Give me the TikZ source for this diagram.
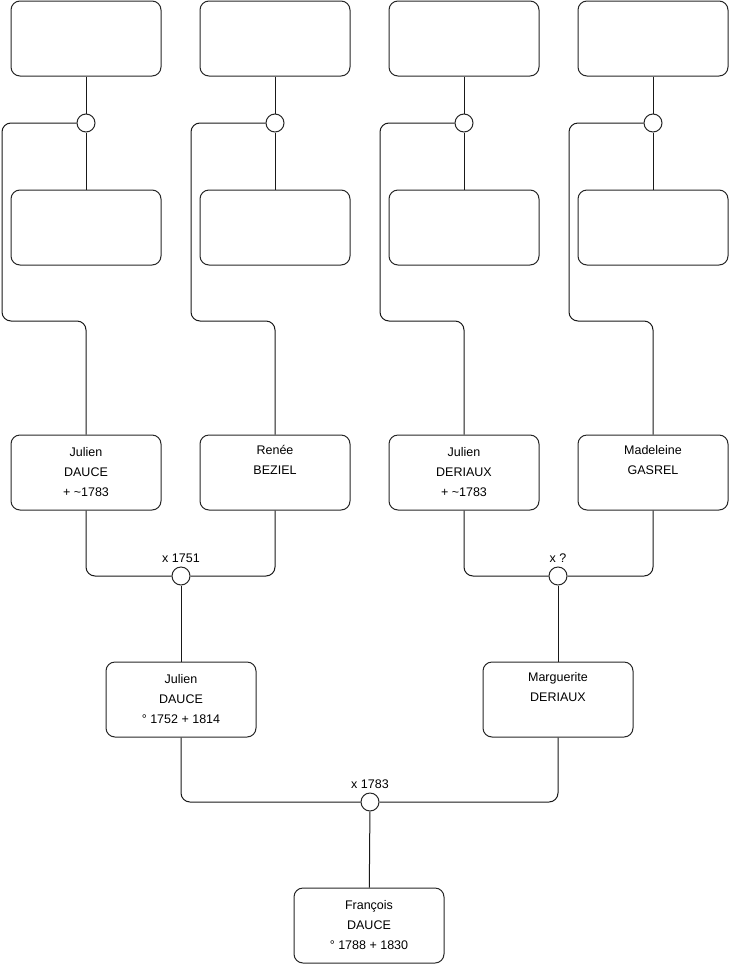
\documentclass[tikz,border=0pt]{standalone}
\usepackage{fontspec}
\setmainfont{Liberation Sans}
\usetikzlibrary{positioning,calc}
\tikzset{
  person/.style={draw=black!85, line width=1pt, rounded corners=9pt, minimum width=150pt,
    minimum height=75pt, align=center, inner sep=0pt, font=\fontsize{12.5}{20}\selectfont},
  knot/.style={draw=black!85, line width=1pt, circle, fill=white, minimum size=18pt, inner sep=0pt},
  link/.style={draw=black!90, line width=1pt, rounded corners=9pt},
  wed/.style={font=\fontsize{12.5}{14}\selectfont}
}

\begin{document}
\begin{tikzpicture}[x=1pt,y=-1pt]
  \useasboundingbox (0,0) rectangle (740,975);
  % unknown ancestors
  \foreach \i/\x in {1/86,2/275,3/464,4/653}{
    \node[person] (a\i) at (\x,38.5) {};
    \node[knot] (k\i) at (\x,123) {};
    \node[person] (b\i) at (\x,227.5) {};
    \coordinate (bend\i) at (\x-84,321);
    \draw[link] (a\i) -- (k\i) -- (b\i);
  }
  % grandparents
  \node[person] (p1) at (86,472.5) {Julien\\DAUCE\\+ \textasciitilde1783};
  \node[person] (p2) at (275,472.5) {Renée\\BEZIEL\\\strut};
  \node[person] (p3) at (464,472.5) {Julien\\DERIAUX\\+ \textasciitilde1783};
  \node[person] (p4) at (653,472.5) {Madeleine\\GASREL\\\strut};
  \foreach \i in {1,...,4}
    \draw[link] (k\i.west) -| (bend\i) -| (p\i.north);
  % parents
  \node[knot, label={[wed]above:x 1751}] (m1) at (181,576) {};
  \node[knot, label={[wed]above:x ?}] (m2) at (558,576) {};
  \draw[link] (p1.south) |- (m1.west);
  \draw[link] (p2.south) |- (m1.east);
  \draw[link] (p3.south) |- (m2.west);
  \draw[link] (p4.south) |- (m2.east);
  \node[person] (g1) at (181,699.5) {Julien\\DAUCE\\° 1752 + 1814};
  \node[person] (g2) at (558,699.5) {Marguerite\\DERIAUX\\\strut};
  \draw[link] (m1) -- (g1);
  \draw[link] (m2) -- (g2);
  % child
  \node[knot, label={[wed]above:x 1783}] (m3) at (370,802) {};
  \draw[link] (g1.south) |- (m3.west);
  \draw[link] (g2.south) |- (m3.east);
  \node[person] (f) at (369,925.5) {François\\DAUCE\\° 1788 + 1830};
  \draw[link] (m3) -- (f);
\end{tikzpicture}
\end{document}
